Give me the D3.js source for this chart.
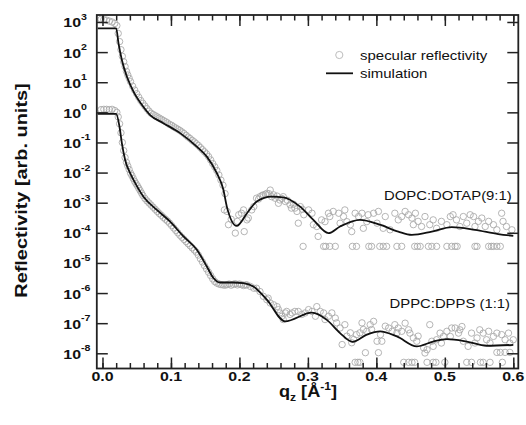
<!DOCTYPE html>
<html>
<head>
<meta charset="utf-8">
<script src="https://cdn.jsdelivr.net/npm/d3@7/dist/d3.min.js"></script>
<style>
  body { margin: 0; background: #fff; }
  text { font-family: "Liberation Sans", Arial, Helvetica, sans-serif; fill: #111; }
</style>
</head>
<body>
<svg width="526" height="425"></svg>
<script>
// values: [q_z (1/A), log10 reflectivity]

var upperSim = [[-0.007,2.79],[0.020,2.79],[0.0234,2.29],[0.0283,1.74],[0.0356,1.19],[0.0453,0.69],
  [0.0575,0.25],[0.0696,-0.09],[0.089,-0.36],[0.1134,-0.69],[0.1378,-1.14],[0.1524,-1.47],[0.167,-2.02],
  [0.1766,-2.57],[0.1816,-3.13],[0.196,-3.77],[0.211,-3.35],[0.2254,-2.96],[0.247,-2.80],[0.264,-2.82],
  [0.2886,-3.13],[0.308,-3.57],[0.330,-4.01],[0.347,-3.79],[0.376,-3.57],[0.405,-3.73],[0.432,-3.96],
  [0.4517,-4.07],[0.481,-3.96],[0.510,-3.81],[0.544,-3.90],[0.578,-4.04],[0.600,-4.10]];

var lowerSim = [[-0.007,-0.05],[0.020,-0.05],[0.0248,-0.47],[0.0283,-1.02],[0.0331,-1.58],[0.0404,-2.02],
  [0.0453,-2.24],[0.0599,-2.80],[0.0794,-3.24],[0.0988,-3.63],[0.1182,-4.12],[0.1378,-4.56],[0.1524,-5.12],
  [0.162,-5.50],[0.1718,-5.65],[0.1912,-5.65],[0.2058,-5.67],[0.2204,-5.78],[0.24,-6.22],[0.2667,-6.94],
  [0.3057,-6.65],[0.3276,-6.89],[0.347,-7.33],[0.365,-7.62],[0.386,-7.38],[0.4054,-7.27],[0.43,-7.44],
  [0.459,-7.77],[0.483,-7.61],[0.503,-7.53],[0.532,-7.61],[0.561,-7.75],[0.600,-7.72]];

var upperData = [[-0.002,3.09],[0.002,3.08],[0.006,3.06],[0.010,3.03],[0.014,3.00],[0.018,2.95],[0.021,2.88],
  [0.023,2.62],[0.025,2.35],[0.027,2.08],[0.029,1.86],[0.031,1.68],[0.033,1.52],[0.035,1.36],[0.037,1.24],
  [0.039,1.13],[0.041,1.02],[0.044,0.87],[0.047,0.74],[0.050,0.62],[0.053,0.50],[0.056,0.39],[0.059,0.30],
  [0.062,0.21],[0.065,0.12],[0.068,0.04],[0.071,-0.03],[0.074,-0.07],[0.077,-0.11],[0.080,-0.15],
  [0.083,-0.19],[0.086,-0.23],[0.089,-0.27],[0.092,-0.31],[0.095,-0.35],[0.098,-0.40],[0.101,-0.43],
  [0.104,-0.48],[0.107,-0.52],[0.110,-0.56],[0.113,-0.60],[0.116,-0.65],[0.119,-0.70],[0.122,-0.76],
  [0.125,-0.82],[0.128,-0.87],[0.131,-0.93],[0.134,-0.98],[0.137,-1.04],[0.140,-1.10],[0.143,-1.17],
  [0.146,-1.24],[0.149,-1.31],[0.152,-1.38],[0.155,-1.47],[0.158,-1.58],[0.161,-1.70],[0.164,-1.81],
  [0.167,-1.93],[0.170,-2.08],[0.173,-2.25],[0.176,-2.42],[0.179,-2.70],[0.178,-3.24],[0.182,-3.29],
  [0.184,-3.73],[0.188,-3.55],[0.194,-4.01],[0.197,-3.62],[0.199,-3.40],[0.203,-3.35],[0.206,-3.24],
  [0.207,-3.96],[0.211,-3.57],[0.213,-3.51],[0.218,-3.24],[0.221,-3.13],[0.225,-2.85],[0.228,-2.88],
  [0.230,-2.80],[0.233,-2.76],[0.235,-2.74],[0.238,-2.72],[0.240,-2.69],[0.243,-2.70],[0.245,-2.58],
  [0.247,-2.80],[0.250,-2.74],[0.252,-2.85],[0.255,-2.78],[0.257,-3.02],[0.259,-2.91],[0.262,-2.86],
  [0.264,-2.80],[0.267,-2.96],[0.270,-2.92],[0.274,-3.07],[0.276,-3.18],[0.279,-3.05],[0.281,-3.18],
  [0.284,-3.29],[0.286,-3.68],[0.289,-3.13],[0.292,-3.22],[0.294,-3.40],[0.301,-3.24],[0.306,-3.35],
  [0.308,-3.73],[0.313,-3.79],[0.315,-4.12],[0.320,-3.57],[0.325,-3.63],[0.330,-3.35],[0.332,-3.46],
  [0.337,-3.29],[0.345,-3.35],[0.347,-3.68],[0.352,-3.46],[0.354,-3.24],[0.357,-3.63],[0.362,-3.73],
  [0.364,-3.96],[0.369,-3.35],[0.374,-3.46],[0.379,-3.35],[0.381,-3.85],[0.386,-3.63],[0.388,-3.40],
  [0.396,-3.35],[0.401,-3.68],[0.403,-3.29],[0.410,-3.85],[0.413,-3.46],[0.420,-3.90],[0.427,-3.35],
  [0.432,-3.57],[0.437,-3.46],[0.442,-3.29],[0.447,-3.40],[0.452,-3.51],[0.454,-3.73],[0.457,-3.35],
  [0.461,-3.62],[0.466,-3.79],[0.471,-3.46],[0.478,-3.73],[0.483,-3.57],[0.488,-3.85],[0.495,-3.62],
  [0.503,-3.73],[0.508,-3.46],[0.512,-3.40],[0.517,-3.57],[0.522,-3.79],[0.527,-3.46],[0.532,-3.68],
  [0.537,-3.40],[0.542,-3.46],[0.544,-3.79],[0.549,-3.62],[0.554,-3.51],[0.559,-3.79],[0.564,-3.62],
  [0.571,-3.73],[0.576,-3.90],[0.583,-3.35],[0.585,-3.62],[0.590,-3.79],[0.598,-3.90]];

// points sitting on the noise floor of the upper curve
var upperFloorLog = -4.45;
var upperFloorQ = [0.293,0.323,0.326,0.332,0.340,0.365,0.371,0.389,0.393,0.405,0.410,0.415,0.430,0.437,
  0.456,0.460,0.464,0.476,0.481,0.488,0.503,0.510,0.515,0.518,0.544,0.547,0.564,0.568,0.571,0.576,0.581];

var lowerData = [[-0.002,0.09],[0.002,0.10],[0.006,0.10],[0.010,0.09],[0.014,0.10],[0.018,0.06],[0.021,0.00],
  [0.023,-0.15],[0.025,-0.38],[0.027,-0.68],[0.029,-1.00],[0.031,-1.27],[0.033,-1.50],[0.035,-1.66],
  [0.037,-1.78],[0.039,-1.90],[0.041,-2.02],[0.043,-2.10],[0.045,-2.20],[0.047,-2.29],[0.049,-2.37],
  [0.051,-2.44],[0.053,-2.52],[0.055,-2.60],[0.057,-2.68],[0.059,-2.76],[0.062,-2.86],[0.065,-2.94],
  [0.068,-3.01],[0.071,-3.08],[0.074,-3.15],[0.077,-3.22],[0.080,-3.29],[0.083,-3.36],[0.086,-3.42],
  [0.089,-3.49],[0.092,-3.55],[0.095,-3.61],[0.098,-3.68],[0.101,-3.76],[0.104,-3.84],[0.107,-3.92],
  [0.110,-4.00],[0.113,-4.08],[0.116,-4.15],[0.119,-4.22],[0.122,-4.29],[0.125,-4.36],[0.128,-4.43],
  [0.131,-4.50],[0.134,-4.57],[0.137,-4.64],[0.140,-4.74],[0.143,-4.86],[0.146,-4.97],[0.149,-5.09],
  [0.152,-5.20],[0.155,-5.31],[0.158,-5.42],[0.161,-5.53],[0.164,-5.62],[0.167,-5.67],[0.170,-5.70],
  [0.173,-5.72],[0.176,-5.73],[0.179,-5.74],[0.182,-5.72],[0.185,-5.70],[0.188,-5.74],[0.191,-5.71],
  [0.194,-5.69],[0.197,-5.73],[0.200,-5.70],[0.203,-5.72],[0.206,-5.75],[0.209,-5.73],[0.211,-5.73],
  [0.216,-5.78],[0.221,-5.84],[0.225,-5.84],[0.230,-5.95],[0.235,-6.11],[0.240,-6.22],[0.242,-6.17],
  [0.245,-6.33],[0.250,-6.39],[0.255,-6.45],[0.257,-6.55],[0.259,-6.66],[0.262,-6.77],[0.264,-6.88],
  [0.267,-6.66],[0.269,-6.61],[0.274,-6.71],[0.277,-6.66],[0.281,-6.61],[0.286,-6.61],[0.291,-6.71],
  [0.296,-6.66],[0.301,-6.55],[0.306,-6.61],[0.311,-6.77],[0.313,-6.45],[0.318,-6.61],[0.323,-6.66],
  [0.325,-6.88],[0.330,-6.77],[0.335,-6.66],[0.340,-6.83],[0.342,-6.99],[0.347,-7.16],[0.350,-7.71],
  [0.354,-7.05],[0.357,-7.43],[0.362,-7.32],[0.364,-7.65],[0.367,-7.54],[0.371,-7.38],[0.376,-7.32],
  [0.379,-6.99],[0.381,-7.21],[0.384,-7.98],[0.386,-7.27],[0.391,-7.05],[0.393,-7.21],[0.396,-6.94],
  [0.401,-7.60],[0.403,-7.98],[0.406,-7.38],[0.408,-7.60],[0.413,-7.10],[0.418,-7.16],[0.423,-7.27],
  [0.427,-7.05],[0.430,-7.32],[0.432,-7.16],[0.437,-7.27],[0.442,-7.00],[0.447,-7.22],[0.449,-7.33],
  [0.454,-7.49],[0.459,-7.60],[0.461,-7.43],[0.469,-7.82],[0.471,-7.99],[0.474,-7.88],[0.478,-7.05],
  [0.481,-7.60],[0.483,-7.77],[0.488,-7.55],[0.493,-7.33],[0.495,-7.66],[0.498,-7.44],[0.503,-7.27],
  [0.508,-7.44],[0.510,-7.16],[0.515,-7.16],[0.520,-7.33],[0.522,-7.22],[0.525,-7.11],[0.527,-7.60],
  [0.534,-7.77],[0.539,-7.33],[0.544,-7.66],[0.547,-7.49],[0.551,-7.22],[0.556,-7.33],[0.561,-7.55],
  [0.564,-7.27],[0.566,-7.66],[0.571,-7.44],[0.576,-7.33],[0.583,-7.38],[0.588,-7.55],[0.593,-7.33],
  [0.595,-7.66],[0.600,-7.55],[0.576,-7.97],[0.581,-7.97],[0.588,-7.97],[0.595,-7.97]];

var lowerFloorLog = -8.30;
var lowerFloorQ = [0.369,0.373,0.376,0.440,0.447,0.452,0.456,0.474,0.483,0.487,0.500,0.532,0.539,
  0.552,0.556,0.566,0.584];

var xMajor = [0.0, 0.1, 0.2, 0.3, 0.4, 0.5, 0.6];
var xMinor = d3.range(0, 0.601, 0.02);
var yExp = [3, 2, 1, 0, -1, -2, -3, -4, -5, -6, -7, -8];
var legendLabels = ["specular reflectivity", "simulation"];
var sampleLabels = ["DOPC:DOTAP(9:1)", "DPPC:DPPS (1:1)"];

// layout
var svg = d3.select("svg");
var L = 96.8, R = 518.3, T = 15, B = 368.5;
var WIDE = "scale(1.18,1)";   // the original lettering is wider than Arial

var x = d3.scaleLinear().domain([-0.0083, 0.6073]).range([L, R]);
var y = d3.scaleLog().domain([Math.pow(10, -8.505), Math.pow(10, 3.232)]).range([B, T]);
function yy(v) { return y(Math.pow(10, v)); }

// data circles
var dots = svg.append("g").attr("fill", "none").attr("stroke", "#a8a8a8").attr("stroke-width", 0.85);
function plotDots(arr) {
  dots.selectAll(null).data(arr).enter().append("circle")
    .attr("cx", function(d) { return x(d[0]); })
    .attr("cy", function(d) { return yy(d[1]); })
    .attr("r", 3.2);
}
plotDots(upperData);
plotDots(upperFloorQ.map(function(q) { return [q, upperFloorLog]; }));
plotDots(lowerData);
plotDots(lowerFloorQ.map(function(q) { return [q, lowerFloorLog]; }));

// simulations
var line = d3.line()
  .x(function(d) { return x(d[0]); })
  .y(function(d) { return yy(d[1]); })
  .curve(d3.curveMonotoneX);

[upperSim, lowerSim].forEach(function(s) {
  svg.append("path").datum(s)
    .attr("d", line)
    .attr("fill", "none")
    .attr("stroke", "#111")
    .attr("stroke-width", 1.8);
});

// axes: ticks point inward on all four sides
function styleAxis(g) {
  g.select(".domain").remove();
  g.selectAll("line").attr("stroke", "#222").attr("stroke-width", 1.5);
}
svg.append("g").attr("transform", "translate(0," + B + ")")
  .call(d3.axisBottom(x).tickValues(xMinor).tickSize(-5.5).tickFormat("")).call(styleAxis);
svg.append("g").attr("transform", "translate(0," + B + ")")
  .call(d3.axisBottom(x).tickValues(xMajor).tickSize(-11).tickFormat("")).call(styleAxis);
svg.append("g").attr("transform", "translate(0," + T + ")")
  .call(d3.axisTop(x).tickValues(xMinor).tickSize(-5.5).tickFormat("")).call(styleAxis);
svg.append("g").attr("transform", "translate(0," + T + ")")
  .call(d3.axisTop(x).tickValues(xMajor).tickSize(-11).tickFormat("")).call(styleAxis);

var yTicks = yExp.map(function(e) { return Math.pow(10, e); });
svg.append("g").attr("transform", "translate(" + L + ",0)")
  .call(d3.axisLeft(y).tickValues(yTicks).tickSize(-11).tickFormat("")).call(styleAxis);
svg.append("g").attr("transform", "translate(" + R + ",0)")
  .call(d3.axisRight(y).tickValues(yTicks).tickSize(-11).tickFormat("")).call(styleAxis);

svg.append("rect")
  .attr("x", L).attr("y", T).attr("width", R - L).attr("height", B - T)
  .attr("fill", "none").attr("stroke", "#222").attr("stroke-width", 1.8);

// tick labels
svg.append("g").selectAll("text").data(xMajor).enter().append("text")
  .attr("transform", function(d) { return "translate(" + x(d) + ",380.5) " + WIDE; })
  .attr("text-anchor", "middle")
  .attr("font-size", 13.5).attr("font-weight", "bold")
  .text(function(d) { return d.toFixed(1); });

var yl = svg.append("g").selectAll("text").data(yExp).enter().append("text")
  .attr("transform", function(d) { return "translate(63.3," + (y(Math.pow(10, d)) + 5.5) + ") " + WIDE; })
  .attr("font-size", 13.5).attr("font-weight", "bold");
yl.append("tspan").text("10");
yl.append("tspan").attr("dy", -7.5).attr("font-size", 9).text(function(d) { return d; });

// axis titles
var xt = svg.append("text")
  .attr("transform", "translate(308,397) scale(1.1,1)")
  .attr("text-anchor", "middle")
  .attr("font-size", 16.5).attr("font-weight", "bold");
xt.append("tspan").text("q");
xt.append("tspan").attr("font-size", 11).attr("dy", 4).text("z");
xt.append("tspan").attr("dy", -4).text(" [Å");
xt.append("tspan").attr("font-size", 11).attr("dy", -7).text("-1");
xt.append("tspan").attr("dy", 7).text("]");

svg.append("text")
  .attr("transform", "translate(26.5,190.5) rotate(-90) scale(1.17,1)")
  .attr("text-anchor", "middle")
  .attr("font-size", 17).attr("font-weight", "bold")
  .text("Reflectivity [arb. units]");

// legend
svg.append("circle").attr("cx", 339.3).attr("cy", 55).attr("r", 3.6)
  .attr("fill", "none").attr("stroke", "#bdbdbd").attr("stroke-width", 1);
svg.append("line").attr("x1", 326).attr("x2", 353).attr("y1", 73.3).attr("y2", 73.3)
  .attr("stroke", "#111").attr("stroke-width", 1.8);
svg.append("g").selectAll("text").data(legendLabels).enter().append("text")
  .attr("transform", function(d, i) { return "translate(360," + (59.5 + i * 18.2) + ") " + WIDE; })
  .attr("font-size", 12.7)
  .text(function(d) { return d; });

// sample labels
svg.append("text").attr("transform", "translate(511.7,200) " + WIDE)
  .attr("text-anchor", "end").attr("font-size", 12.6).text(sampleLabels[0]);
svg.append("text").attr("transform", "translate(510,307.5) " + WIDE)
  .attr("text-anchor", "end").attr("font-size", 12.6).text(sampleLabels[1]);
</script>
</body>
</html>
